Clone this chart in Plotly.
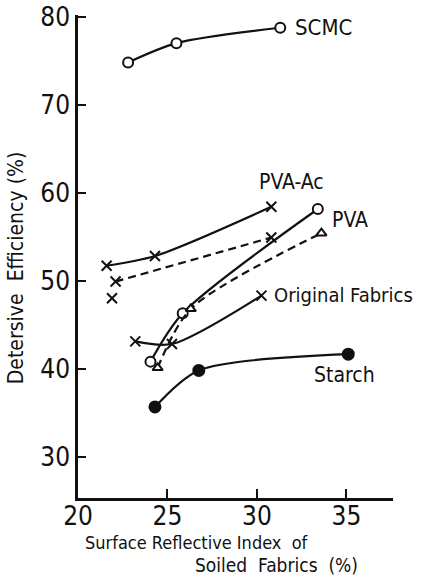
import plotly.graph_objects as go

# Data
scmc_x = [22.8, 25.5, 31.3]
scmc_y = [74.8, 77.0, 78.75]

pvaac_x = [21.6, 24.3, 30.8]
pvaac_y = [51.7, 52.8, 58.4]

pvaac2_x = [22.1, 30.8]
pvaac2_y = [49.9, 54.9]

extra_x = [21.9]
extra_y = [48.0]

pva_x = [24.05, 25.85, 33.4]
pva_y = [40.8, 46.3, 58.15]

tri_x = [24.45, 26.3, 33.6]
tri_y = [40.1, 46.8, 55.4]

orig_x = [23.2, 25.25, 30.25]
orig_y = [43.1, 42.8, 48.3]

starch_x = [24.3, 26.75, 35.1]
starch_y = [35.65, 39.8, 41.65]

x_ticks = [20, 25, 30, 35]
y_ticks = [30, 40, 50, 60, 70, 80]

FONT = "DejaVu Sans Condensed, Liberation Sans Narrow, sans-serif"
BLACK = "#111111"

fig = go.Figure()

def add(x, y, symbol, dash="solid", mode="lines+markers", size=10, fill="white", lw=2.2):
    fig.add_trace(go.Scatter(
        x=x, y=y, mode=mode,
        line=dict(color=BLACK, width=lw, dash=dash, shape="spline", smoothing=0.8),
        marker=dict(symbol=symbol, size=size, color=fill,
                    line=dict(color=BLACK, width=2)),
        showlegend=False, hoverinfo="skip"))

add(scmc_x, scmc_y, "circle", size=10)
add(pvaac_x, pvaac_y, "x-thin", size=10)
add(pvaac2_x, pvaac2_y, "x-thin", dash="8px,5px", size=10)
add(extra_x, extra_y, "x-thin", mode="markers", size=10)
add(pva_x, pva_y, "circle", size=10)
add(tri_x, tri_y, "triangle-up", dash="8px,5px", size=9)
add(orig_x, orig_y, "x-thin", size=10)
add(starch_x, starch_y, "circle", size=11, fill=BLACK)

labels = [
    ("SCMC", 32.0, 78.75, 22),
    ("PVA-Ac", 30.0, 61.25, 21),
    ("PVA", 34.1, 56.9, 21),
    ("Original Fabrics", 30.85, 48.4, 20),
    ("Starch", 33.1, 39.3, 21),
]
for t, x, y, s in labels:
    fig.add_annotation(x=x, y=y, text=t, showarrow=False, xanchor="left",
                       yanchor="middle", font=dict(family=FONT, size=s, color=BLACK))

fig.add_annotation(xref="paper", yref="paper", x=0.017, y=-0.092,
                   text="Surface Reflective Index  of", showarrow=False,
                   xanchor="left", yanchor="middle",
                   font=dict(family=FONT, size=18, color=BLACK))
fig.add_annotation(xref="paper", yref="paper", x=0.366, y=-0.139,
                   text="Soiled  Fabrics  (%)", showarrow=False,
                   xanchor="left", yanchor="middle",
                   font=dict(family=FONT, size=19, color=BLACK))
fig.add_annotation(xref="paper", yref="paper", x=-0.198, y=0.477,
                   text="Detersive  Efficiency (%)", showarrow=False, textangle=-90,
                   xanchor="center", yanchor="middle",
                   font=dict(family=FONT, size=21, color=BLACK))

fig.update_layout(
    width=422, height=578,
    margin=dict(l=78, r=29, t=15, b=80),
    paper_bgcolor="white", plot_bgcolor="white",
    font=dict(family=FONT, color=BLACK),
    xaxis=dict(range=[20, 37.6], tickvals=x_ticks, ticktext=[str(v) for v in x_ticks],
               showgrid=False, zeroline=False, showline=True, linecolor=BLACK,
               linewidth=2.5, ticks="inside", ticklen=9, tickwidth=2, tickcolor=BLACK,
               automargin=False, ticklabelstandoff=-7,
               tickfont=dict(family=FONT, size=26, color=BLACK)),
    yaxis=dict(range=[25.3, 80.2], tickvals=y_ticks, ticktext=[str(v) for v in y_ticks],
               showgrid=False, zeroline=False, showline=True, linecolor=BLACK,
               linewidth=2.5, ticks="inside", ticklen=8, tickwidth=2, tickcolor=BLACK,
               automargin=False,
               tickfont=dict(family=FONT, size=26, color=BLACK)),
)

fig.write_html("out.html", config={"displayModeBar": False},
               post_script="document.body.style.margin='0';")
